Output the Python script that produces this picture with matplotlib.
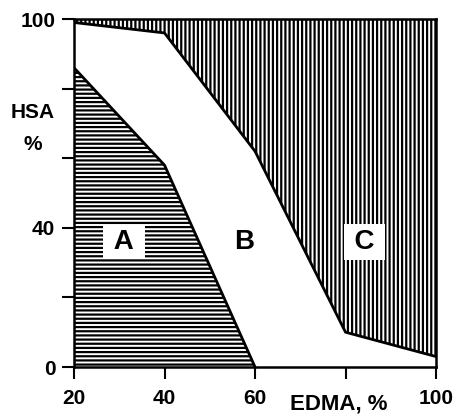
import matplotlib
matplotlib.use("Agg")
import matplotlib.pyplot as plt

plt.rcParams['font.family'] = ['Liberation Sans', 'DejaVu Sans']
plt.rcParams['hatch.linewidth'] = 1.6

# Region boundaries (EDMA %, HSA %)
edma_lower = [20, 40, 60]
hsa_lower = [86, 58, 0]
edma_upper = [20, 40, 60, 80, 100]
hsa_upper = [99, 96, 62, 10, 3]

region_labels = ["A", "B", "C"]
region_x = [31, 57.6, 84.3]
region_y = [36, 36, 36]

xticks = [20, 40, 60, 80, 100]
xticklabels = ["20", "40", "60", "", "100"]
yticks = [0, 20, 40, 60, 80, 100]
yticklabels = ["0", "", "40", "", "", "100"]

fig = plt.figure(figsize=(4.58, 4.18), dpi=100)
ax = fig.add_axes([0.1616, 0.122, 0.7904, 0.8325])

ax.fill_between(edma_lower, 0, hsa_lower, facecolor='white', edgecolor='black',
                hatch='----', linewidth=0)
ax.fill_between(edma_upper, hsa_upper, 100, facecolor='white', edgecolor='black',
                hatch='||||', linewidth=0)
ax.plot(edma_lower, hsa_lower, color='black', lw=2)
ax.plot(edma_upper, hsa_upper, color='black', lw=2)

box_text = {"A": " A ", "B": "B", "C": "\u2009C\u2009"}
box_pad = {"A": 0.15, "C": 0.18}
for lab, x, y in zip(region_labels, region_x, region_y):
    if lab == "B":
        ax.text(x, y, lab, ha='center', va='center', fontsize=20, fontweight='bold')
    else:
        ax.text(x, y, box_text[lab], ha='center', va='center', fontsize=20,
                fontweight='bold',
                bbox=dict(facecolor='white', edgecolor='none',
                          boxstyle='square,pad=%g' % box_pad[lab]))

ax.set_xlim(20, 100)
ax.set_ylim(0, 100)
ax.set_xticks(xticks)
ax.set_xticklabels(xticklabels)
ax.set_yticks(yticks)
ax.set_yticklabels(yticklabels)
ax.tick_params(direction='out', length=8.5, width=1.5, labelsize=15)
ax.tick_params(axis='x', pad=7)
ax.tick_params(axis='y', pad=5)
for t in ax.get_xticklabels() + ax.get_yticklabels():
    t.set_fontweight('bold')
for s in ax.spines.values():
    s.set_linewidth(1.8)

ax.text(-0.115, 0.685, "HSA\n%", transform=ax.transAxes, ha='center', va='center',
        fontsize=15, fontweight='bold', linespacing=1.9)
ax.text(0.73, -0.107, "EDMA, %", transform=ax.transAxes, ha='center', va='center',
        fontsize=16, fontweight='bold')

fig.savefig("out.png", dpi=100)
